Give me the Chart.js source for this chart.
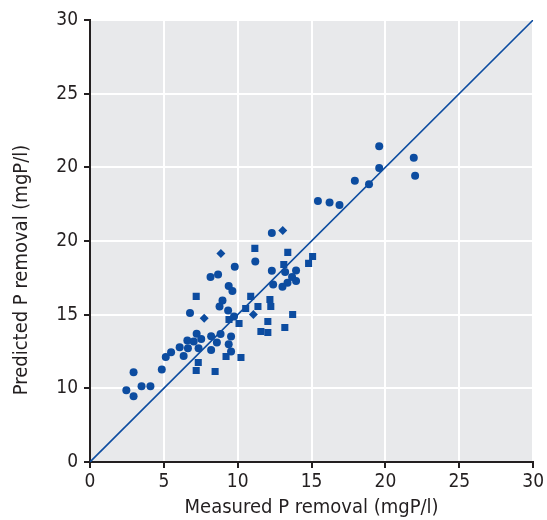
<!DOCTYPE html>
<html>
<head>
<meta charset="utf-8">
<script src="https://cdn.jsdelivr.net/npm/chart.js@4/dist/chart.umd.min.js"></script>
<style>
  body { margin: 0; background: #fff; }
  #wrap { width: 547px; height: 520px; }
</style>
</head>
<body>
<div id="wrap"><canvas id="chart" width="547" height="520"></canvas></div>
<script>
// measured vs predicted P removal, mgP/l
const circleX = [12.31, 11.19, 9.80, 8.16, 8.67, 9.39, 9.64, 8.97, 8.77, 6.77, 9.35, 9.75,
  7.22, 6.59, 7.02, 7.53, 8.20, 8.84, 9.55, 6.07, 6.63, 7.35, 8.20, 8.59, 9.39, 9.55,
  5.49, 5.13, 6.34, 4.86, 2.95, 3.49, 4.09, 2.46, 2.95, 12.31, 13.21, 13.95, 13.68,
  13.95, 13.37, 13.03, 12.40, 15.43, 16.22, 16.89, 17.93, 18.89, 19.58, 19.58, 21.92, 22.01];
const circleY = [15.54, 13.61, 13.25, 12.55, 12.73, 11.94, 11.60, 10.96, 10.56, 10.12, 10.29, 9.88,
  8.70, 8.25, 8.18, 8.34, 8.54, 8.68, 8.52, 7.79, 7.72, 7.72, 7.61, 8.11, 8.00, 7.50,
  7.45, 7.13, 7.20, 6.28, 6.09, 5.14, 5.14, 4.87, 4.46, 12.98, 12.89, 13.00, 12.55,
  12.28, 12.16, 11.89, 12.05, 17.71, 17.62, 17.44, 19.09, 18.85, 21.43, 19.95, 20.65, 19.43];

const squareX = [7.19, 11.16, 13.39, 15.07, 14.80, 13.12, 10.88, 12.18, 12.24, 11.37, 10.54, 9.41,
  10.09, 12.04, 13.72, 13.19, 11.57, 12.04, 9.21, 10.22, 7.33, 7.19, 8.47];
const squareY = [11.24, 14.50, 14.23, 13.95, 13.48, 13.41, 11.24, 11.03, 10.56, 10.56, 10.42, 9.67,
  9.40, 9.54, 10.01, 9.13, 8.86, 8.79, 7.16, 7.09, 6.75, 6.21, 6.14];

const diamondX = [8.86, 13.05, 7.73, 11.06];
const diamondY = [14.16, 15.72, 9.76, 10.01];

// 1:1 line
const lineX = [0, 30];
const lineY = [0, 30];

const xTickLabels = ['0', '5', '10', '15', '20', '25', '30'];
const yTickLabels = ['0', '10', '15', '20', '20', '25', '30'];

const xTitle = 'Measured P removal (mgP/l)';
const yTitle = 'Predicted P removal (mgP/l)';

const blue = '#0c4ca0';
const ink = '#231f20';
const fontFamily = '"DejaVu Sans Condensed", "DejaVu Sans", sans-serif';

function toPoints(xs, ys) {
  return xs.map((x, i) => ({ x: x, y: ys[i] }));
}

const plotBackground = {
  id: 'plotBackground',
  beforeDraw(chart) {
    const a = chart.chartArea;
    const ctx = chart.ctx;
    ctx.save();
    ctx.fillStyle = '#e8e9eb';
    ctx.fillRect(a.left, a.top, a.right - a.left, a.bottom - a.top);
    ctx.restore();
  }
};

// y title sits a little below the axis middle
const yTitlePlugin = {
  id: 'yTitlePlugin',
  afterDraw(chart) {
    const a = chart.chartArea;
    const ctx = chart.ctx;
    ctx.save();
    ctx.translate(22, (a.top + a.bottom) / 2 + 29);
    ctx.rotate(-Math.PI / 2);
    ctx.font = '20px ' + fontFamily;
    ctx.fillStyle = ink;
    ctx.textAlign = 'center';
    ctx.textBaseline = 'middle';
    ctx.fillText(yTitle, 0, 0);
    ctx.restore();
  }
};

new Chart(document.getElementById('chart'), {
  type: 'scatter',
  data: {
    datasets: [
      {
        data: toPoints(circleX, circleY),
        pointStyle: 'circle',
        pointRadius: 4,
        backgroundColor: blue,
        borderWidth: 0
      },
      {
        data: toPoints(squareX, squareY),
        pointStyle: 'rect',
        pointRadius: 5,
        backgroundColor: blue,
        borderWidth: 0
      },
      {
        data: toPoints(diamondX, diamondY),
        pointStyle: 'rectRot',
        pointRadius: 4.5,
        backgroundColor: blue,
        borderWidth: 0
      },
      {
        data: toPoints(lineX, lineY),
        showLine: true,
        pointRadius: 0,
        borderColor: blue,
        borderWidth: 1.6
      }
    ]
  },
  options: {
    responsive: false,
    animation: false,
    layout: { padding: { left: 0, top: 20, right: 12, bottom: 0 } },
    plugins: {
      legend: { display: false },
      tooltip: { enabled: false }
    },
    scales: {
      x: {
        type: 'linear',
        min: 0,
        max: 30,
        afterFit: (scale) => { scale.height = 58; },
        ticks: {
          stepSize: 5,
          padding: 3,
          color: ink,
          font: { family: fontFamily, size: 19 },
          callback: (v, i) => xTickLabels[i]
        },
        grid: {
          color: '#ffffff',
          lineWidth: 2,
          tickColor: ink,
          tickLength: 6,
          tickWidth: 2
        },
        border: { color: ink, width: 2 },
        title: {
          display: true,
          text: xTitle,
          color: ink,
          font: { family: fontFamily, size: 20 },
          padding: { top: 0, bottom: 0 }
        }
      },
      y: {
        type: 'linear',
        min: 0,
        max: 30,
        afterFit: (scale) => { scale.width = 90; },
        ticks: {
          stepSize: 5,
          padding: 6,
          color: ink,
          font: { family: fontFamily, size: 19 },
          callback: (v, i) => yTickLabels[i]
        },
        grid: {
          color: '#ffffff',
          lineWidth: 2,
          tickColor: ink,
          tickLength: 6,
          tickWidth: 2
        },
        border: { color: ink, width: 2 }
      }
    }
  },
  plugins: [plotBackground, yTitlePlugin]
});
</script>
</body>
</html>
